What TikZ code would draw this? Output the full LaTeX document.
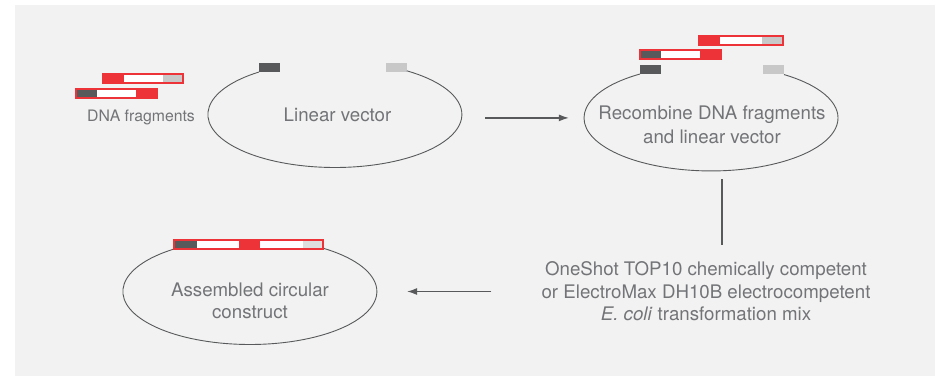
\documentclass[tikz,border=0pt]{standalone}
\usepackage{fontspec}
\setmainfont{TeX Gyre Heros}
\usepackage{tikz}
\usetikzlibrary{positioning,shapes.geometric,arrows.meta}

\definecolor{panel}{HTML}{F2F2F2}
\definecolor{ink}{HTML}{737477}
\definecolor{wire}{HTML}{58595B}
\definecolor{dnared}{HTML}{EE3338}
\definecolor{darkend}{HTML}{58595B}
\definecolor{lightend}{HTML}{C8C8C8}
\definecolor{paleend}{HTML}{DEDEDE}

\begin{document}
\begin{tikzpicture}[x=1pt,y=1pt,>={Latex[length=10pt,width=7pt]},
    label/.style={text=ink,inner sep=0pt,align=center,anchor=north,font=\fontsize{18.7}{23}\selectfont},
    small/.style={label,font=\fontsize{15.8}{19}\selectfont},
    plasmid/.style={ellipse,minimum width=254pt,minimum height=106pt,inner sep=0pt},
    curve/.style={draw=wire,line width=0.9pt},
    flow/.style={draw=wire,line width=1.2pt},
    seg/.style={inner sep=0pt,outer sep=0pt,minimum height=9pt},
    frame/.style={draw=dnared,line width=1.1pt}]

    \useasboundingbox (0,0) rectangle (937,376);
    \fill[panel] (15,0) rectangle (935,371);

    % the three loops
    \node[plasmid] (lv) at (334.9,261.5) {};
    \node[plasmid] (rc) at (711,258.1) {};
    \node[plasmid] (ac) at (249.9,84.5) {};

    \node[seg,fill=darkend,minimum width=21pt] (lvd) at (269.5,308.5) {};
    \node[seg,fill=lightend,minimum width=21pt] (lvl) at (396.5,308.5) {};
    \node[seg,fill=darkend,minimum width=21pt] (rcd) at (650.5,306.5) {};
    \node[seg,fill=lightend,minimum width=21pt] (rcl) at (773.5,306.5) {};

    \draw[curve] (lvd.south west) arc[start angle=126.7,end angle=415.5,x radius=127pt,y radius=53pt];
    \draw[curve] (rcd.south west) arc[start angle=124,end angle=414.9,x radius=127pt,y radius=53pt];

    % fragments on the left
    \node[seg,fill=dnared,minimum width=21pt,anchor=west] (la1) at (103,297.5) {};
    \node[seg,fill=white,minimum width=39pt,right=0pt of la1] (la2) {};
    \node[seg,fill=lightend,minimum width=20pt,right=0pt of la2] (la3) {};
    \draw[frame] (la1.south west) rectangle (la3.north east);

    \node[seg,fill=darkend,minimum width=21pt,anchor=west] (lb1) at (76,282.5) {};
    \node[seg,fill=white,minimum width=39pt,right=0pt of lb1] (lb2) {};
    \node[seg,fill=dnared,minimum width=21pt,right=0pt of lb2] (lb3) {};
    \draw[frame] (lb1.south west) rectangle (lb3.north east);

    % fragments on the right
    \node[seg,fill=dnared,minimum width=21pt,anchor=west] (ra1) at (699,335.5) {};
    \node[seg,fill=white,minimum width=42pt,right=0pt of ra1] (ra2) {};
    \node[seg,fill=lightend,minimum width=21pt,right=0pt of ra2] (ra3) {};
    \draw[frame] (ra1.south west) rectangle (ra3.north east);

    \node[seg,fill=darkend,minimum width=21pt,anchor=west] (rb1) at (640,321.5) {};
    \node[seg,fill=white,minimum width=39pt,right=0pt of rb1] (rb2) {};
    \node[seg,fill=dnared,minimum width=21pt,right=0pt of rb2] (rb3) {};
    \draw[frame] (rb1.south west) rectangle (rb3.north east);

    % assembled insert
    \node[seg,fill=darkend,minimum width=23pt,anchor=west] (ab1) at (174,131.5) {};
    \node[seg,fill=white,minimum width=42pt,right=0pt of ab1] (ab2) {};
    \node[seg,fill=dnared,minimum width=21pt,right=0pt of ab2] (ab3) {};
    \node[seg,fill=white,minimum width=43pt,right=0pt of ab3] (ab4) {};
    \node[seg,fill=paleend,minimum width=20pt,right=0pt of ab4] (ab5) {};
    \draw[curve] (ab1.south west) arc[start angle=126.7,end angle=414.9,x radius=127pt,y radius=53pt];
    \draw[frame] (ab1.south west) rectangle (ab5.north east);

    \node[small] (fragtext) at (141,266.7)
    {DNA fragments};

    \node[label] (lvtext) at (337.5,268)
    {Linear vector};

    \node[label,font=\fontsize{18.7}{24}\selectfont] (rctext) at (712,270)
    {Recombine DNA fragments\\and linear vector};

    \node[label,font=\fontsize{18.7}{22}\selectfont] (actext) at (250,93)
    {Assembled circular\\construct};

    \node[label,font=\fontsize{18.7}{22.5}\selectfont] (mix) at (706,114.5)
    {OneShot TOP10 chemically competent\\or ElectroMax DH10B electrocompetent\\\textit{E. coli} transformation mix};

    \draw[flow,->,shorten <=23pt,shorten >=15pt] (lv.east |- rc.west) -- (rc.west);
    \draw[flow,shorten <=8pt,shorten >=17pt] ([xshift=11pt]rc.south) -- ([xshift=11pt]rc.south |- mix.north);
    \draw[flow,->,shorten <=50pt,shorten >=30pt] (mix.west |- ac.east) -- (ac.east);
\end{tikzpicture}
\end{document}
